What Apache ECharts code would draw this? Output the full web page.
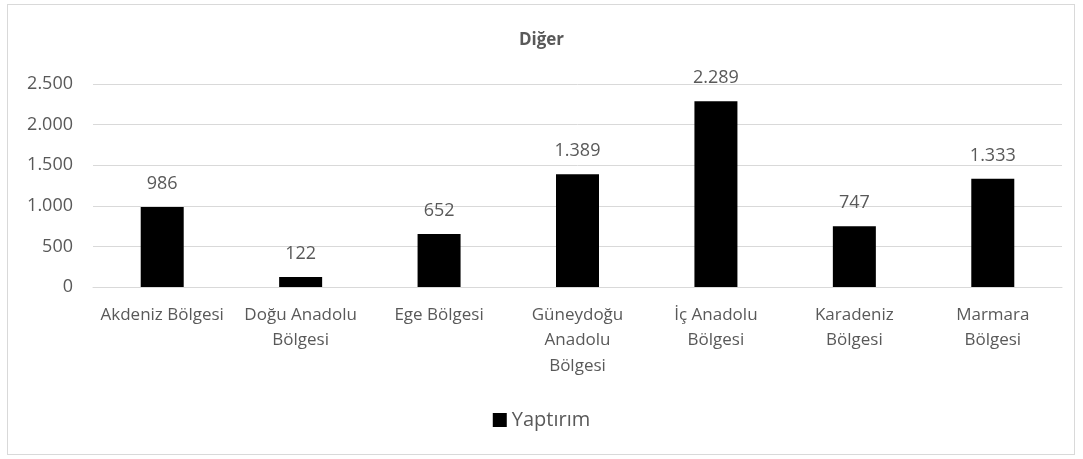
<!DOCTYPE html>
<html>
<head>
<meta charset="utf-8">
<script src="https://cdn.jsdelivr.net/npm/echarts@6/dist/echarts.min.js"></script>
<style>
  html, body { margin: 0; padding: 0; background: #fff; }
  #frame { position: absolute; left: 7px; top: 4px; width: 1068px; height: 451px;
           border: 1px solid #d9d9d9; box-sizing: border-box; }
  #chart { width: 1083px; height: 459px; }
</style>
</head>
<body>
<div id="frame"></div>
<div id="chart"></div>
<script>
// data
const categories = ['Akdeniz Bölgesi', 'Doğu Anadolu Bölgesi', 'Ege Bölgesi',
    'Güneydoğu Anadolu Bölgesi', 'İç Anadolu Bölgesi', 'Karadeniz Bölgesi', 'Marmara Bölgesi'];
const tickLabels = ['Akdeniz Bölgesi', 'Doğu Anadolu\nBölgesi', 'Ege Bölgesi',
    'Güneydoğu\nAnadolu\nBölgesi', 'İç Anadolu\nBölgesi', 'Karadeniz\nBölgesi', 'Marmara\nBölgesi'];
const yaptirim = [986, 122, 652, 1389, 2289, 747, 1333];

const fontFamily = '"Open Sans", "Noto Sans", sans-serif';
const textColor = '#595959';

// 1.389 style thousands separator
let fmt = (v) => String(v).replace(/\B(?=(\d{3})+(?!\d))/g, '.');

let chart = echarts.init(document.getElementById('chart'));

chart.setOption({
    animation: false,
    textStyle: { fontFamily: fontFamily },
    title: {
        text: 'Diğer',
        left: 'center',
        top: 27,
        textStyle: { fontSize: 17, fontWeight: 'bold', color: textColor, fontFamily: fontFamily }
    },
    grid: { left: 93, right: 21, top: 84, bottom: 172 },
    legend: {
        bottom: 24,
        left: 'center',
        itemWidth: 14,
        itemHeight: 14,
        itemGap: 4,
        icon: 'rect',
        textStyle: { fontSize: 20, color: textColor, fontFamily: fontFamily, padding: [0, 0, 0, 0] },
        data: ['Yaptırım']
    },
    xAxis: {
        type: 'category',
        data: categories,
        axisLine: { lineStyle: { color: '#d9d9d9' } },
        axisTick: { show: false },
        axisLabel: {
            color: textColor,
            fontSize: 17,
            lineHeight: 25.5,
            margin: 15,
            interval: 0,
            formatter: (v, i) => tickLabels[i]
        }
    },
    yAxis: {
        type: 'value',
        min: 0,
        max: 2500,
        interval: 500,
        axisLine: { show: false },
        axisTick: { show: false },
        splitLine: { lineStyle: { color: '#d9d9d9' } },
        axisLabel: { color: textColor, fontSize: 18, margin: 20, formatter: fmt }
    },
    series: [{
        name: 'Yaptırım',
        type: 'bar',
        data: yaptirim,
        barWidth: 43,
        itemStyle: { color: '#000' },
        label: {
            show: true,
            position: 'top',
            distance: 14,
            color: textColor,
            fontSize: 18,
            formatter: (p) => fmt(p.value)
        }
    }]
});
</script>
</body>
</html>
